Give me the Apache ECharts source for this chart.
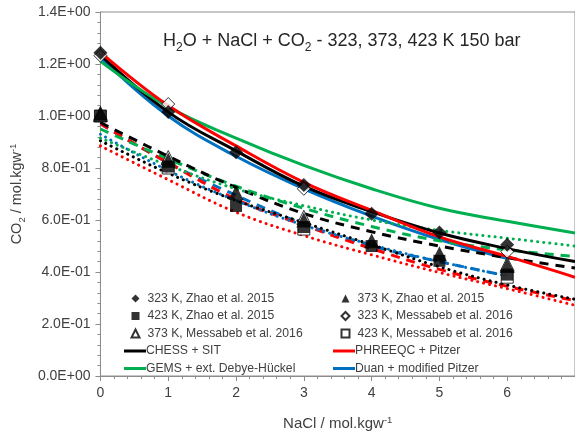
<!DOCTYPE html>
<html>
<head>
<meta charset="utf-8">
<script src="https://cdn.jsdelivr.net/npm/echarts@6/dist/echarts.min.js"></script>
<style>
  html, body { margin: 0; padding: 0; background: #fff; }
  #chart { width: 575px; height: 436px; }
</style>
</head>
<body>
<div id="chart"></div>
<script>
// NaCl molality grids (mol/kgw)
const naclModel = [0, 1, 2, 3, 4, 5, 6, 7];
const naclDuan = [0, 1, 2, 3, 4, 5, 6];
const naclZhao = [0, 1, 2, 3, 4, 5, 6];
const naclMessabeb = [0, 1, 3, 6];

// Measured CO2 solubility (mol/kgw)
const zhao323 = [1.243, 1.015, 0.861, 0.735, 0.624, 0.552, 0.505];
const zhao373 = [1.012, 0.83, 0.706, 0.60, 0.52, 0.47, 0.425];
const zhao423 = [1.0, 0.806, 0.654, 0.573, 0.50, 0.443, 0.39];
const messabeb323 = [1.232, 1.046, 0.72, 0.478];
const messabeb373 = [1.005, 0.84, 0.61, 0.43];
const messabeb423 = [1.0, 0.80, 0.565, 0.38];

// Model curves: 323 K (solid), 373 K (dashed), 423 K (dotted)
const chess323 = [1.235, 1.015, 0.866, 0.73, 0.632, 0.55, 0.49, 0.44];
const chess373 = [0.975, 0.845, 0.725, 0.625, 0.555, 0.50, 0.455, 0.415];
const chess423 = [0.905, 0.78, 0.675, 0.59, 0.505, 0.42, 0.35, 0.295];
const phreeqc323 = [1.245, 1.04, 0.885, 0.745, 0.637, 0.535, 0.46, 0.38];
const phreeqc373 = [0.97, 0.82, 0.68, 0.58, 0.49, 0.41, 0.345, 0.29];
const phreeqc423 = [0.885, 0.755, 0.63, 0.54, 0.466, 0.398, 0.336, 0.272];
const gems323 = [1.21, 1.035, 0.915, 0.81, 0.72, 0.645, 0.595, 0.55];
const gems373 = [0.95, 0.835, 0.73, 0.645, 0.575, 0.52, 0.485, 0.46];
const gems423 = [0.915, 0.81, 0.72, 0.655, 0.60, 0.56, 0.53, 0.50];
const duan323 = [1.225, 1.0, 0.845, 0.72, 0.615, 0.525, 0.452];
const duan373 = [0.97, 0.82, 0.695, 0.585, 0.50, 0.44, 0.385];
const duan423 = [0.93, 0.79, 0.675, 0.58, 0.505, 0.44, 0.385];

// Axis ticks
const yMin = 0, yMax = 1.4, yStep = 0.2;
const xMin = 0, xMax = 7, xStep = 1;

const FONT = 'Liberation Sans, Arial, sans-serif';
const pairs = (xs, ys) => ys.map((y, i) => [xs[i], y]);

function sci(v) {
  if (Math.abs(v) < 1e-12) return '0.0E+00';
  const e = Math.floor(Math.log10(Math.abs(v)) + 1e-9);
  const m = v / Math.pow(10, e);
  return m.toFixed(1) + 'E' + (e < 0 ? '-' : '+') + String(Math.abs(e)).padStart(2, '0');
}

const SOLID = 'solid', DASH = [9, 7], DOT = [0.1, 6];
function model(name, xs, ys, color, type, z) {
  return {
    name, type: 'line', data: pairs(xs, ys), smooth: 0.4,
    symbol: 'none', z: z,
    lineStyle: { color, width: 3, type, cap: type === DOT ? 'round' : 'butt' },
    itemStyle: { color },
    emphasis: { disabled: true }
  };
}
function points(name, xs, ys, symbol, size, filled) {
  return {
    name, type: 'scatter', data: pairs(xs, ys), symbol, symbolSize: size, z: filled ? 6 : 5,
    itemStyle: filled ? { color: '#000' } : { color: '#fff', borderColor: '#000', borderWidth: 1 },
    emphasis: { disabled: true }
  };
}

const nChess = 'CHESS + SIT', nPhreeqc = 'PHREEQC + Pitzer',
      nGems = 'GEMS + ext. Debye-Hückel', nDuan = 'Duan + modified Pitzer';
const nZ323 = '323 K, Zhao et al. 2015', nZ373 = '373 K, Zhao et al. 2015', nZ423 = '423 K, Zhao et al. 2015';
const nM323 = '323 K, Messabeb et al. 2016', nM373 = '373 K, Messabeb et al. 2016', nM423 = '423 K, Messabeb et al. 2016';

const series = [
  model(nDuan, naclDuan, duan323, '#0070c0', SOLID, 2),
  model(nChess, naclModel, chess323, '#000000', SOLID, 3),
  model(nGems, naclModel, gems323, '#00b050', SOLID, 3),
  model(nPhreeqc, naclModel, phreeqc323, '#ff0000', SOLID, 3),
  model(nDuan, naclDuan, duan373, '#0070c0', DASH, 2),
  model(nPhreeqc, naclModel, phreeqc373, '#ff0000', DASH, 2),
  model(nGems, naclModel, gems373, '#00b050', DASH, 2),
  model(nChess, naclModel, chess373, '#000000', DASH, 2),
  model(nDuan, naclDuan, duan423, '#0070c0', DOT, 2),
  model(nPhreeqc, naclModel, phreeqc423, '#ff0000', DOT, 2),
  model(nChess, naclModel, chess423, '#000000', DOT, 2),
  model(nGems, naclModel, gems423, '#00b050', DOT, 2),
  points(nM323, naclMessabeb, messabeb323, 'diamond', 13, false),
  points(nM373, naclMessabeb, messabeb373, 'triangle', 14, false),
  points(nM423, naclMessabeb, messabeb423, 'rect', 12, false),
  points(nZ323, naclZhao, zhao323, 'diamond', 14, true),
  points(nZ373, naclZhao, zhao373, 'triangle', 15, true),
  points(nZ423, naclZhao, zhao423, 'rect', 12, true)
];

const legendText = { fontFamily: FONT, fontSize: 12.2, color: '#404040', lineHeight: 15 };
const ROW = 17.5, LEG_TOP = 291;
function markerLegend(left, names) {
  return {
    orient: 'vertical', left: left, top: LEG_TOP, padding: 0,
    itemWidth: 8, itemHeight: 8, itemGap: ROW - 15,
    selectedMode: false, textStyle: Object.assign({ padding: [0, 0, 0, 3] }, legendText),
    data: names
  };
}
function lineLegend(left, names) {
  return {
    orient: 'vertical', left: left, top: LEG_TOP + 3 * ROW, padding: 0,
    itemWidth: 22, itemHeight: 3, itemGap: ROW - 15,
    selectedMode: false, textStyle: Object.assign({ padding: [0, 0, 0, -5] }, legendText),
    data: names.map(n => ({ name: n, icon: 'rect' }))
  };
}

const chart = echarts.init(document.getElementById('chart'), null, { renderer: 'canvas' });
chart.setOption({
  animation: false,
  backgroundColor: '#fff',
  title: {
    text: '{a|H}{s|2}{a|O + NaCl + CO}{s|2}{a| - 323, 373, 423 K 150 bar}',
    left: 158, top: 23,
    textStyle: {
      fontWeight: 'normal',
      rich: {
        a: { fontFamily: FONT, fontSize: 18, fontWeight: 'normal', color: '#262626', verticalAlign: 'bottom', lineHeight: 22 },
        s: { fontFamily: FONT, fontSize: 12, fontWeight: 'normal', color: '#262626', verticalAlign: 'bottom', lineHeight: 16, padding: [0, 0, -4, 0] }
      }
    }
  },
  grid: { left: 99, top: 12, right: -3.5, bottom: 45, show: true, borderColor: '#8c8c8c', borderWidth: 1 },
  legend: [
    markerLegend(130.5, [nZ323, nZ423, nM373]),
    lineLegend(124, [nChess, nGems]),
    markerLegend(340.5, [nZ373, nM323, nM423]),
    lineLegend(333, [nPhreeqc, nDuan])
  ],
  xAxis: {
    type: 'value', min: xMin, max: xMax, interval: xStep,
    name: '{a|NaCl / mol.kgw}{p|-1}', nameLocation: 'middle', nameGap: 37,
    nameTextStyle: {
      rich: {
        a: { fontFamily: FONT, fontSize: 15, color: '#404040', verticalAlign: 'bottom', lineHeight: 18 },
        p: { fontFamily: FONT, fontSize: 9.5, color: '#404040', verticalAlign: 'bottom', lineHeight: 18, padding: [0, 0, 6, 0] }
      }
    },
    axisLine: { lineStyle: { color: '#8c8c8c', width: 1 } },
    axisTick: { show: true, length: 5, lineStyle: { color: '#8c8c8c' } },
    minorTick: { show: true, splitNumber: 5, length: 3, lineStyle: { color: '#8c8c8c' } },
    splitLine: { show: false },
    axisLabel: { fontFamily: FONT, fontSize: 14, color: '#404040', margin: 10, showMaxLabel: false }
  },
  yAxis: {
    type: 'value', min: yMin, max: yMax, interval: yStep,
    name: '{a|CO}{s|2}{a| / mol.kgw}{p|-1}', nameLocation: 'middle', nameGap: 60, nameRotate: 90,
    nameTextStyle: {
      rich: {
        a: { fontFamily: FONT, fontSize: 14.5, color: '#404040', verticalAlign: 'bottom', lineHeight: 18 },
        s: { fontFamily: FONT, fontSize: 9.5, color: '#404040', verticalAlign: 'bottom', lineHeight: 18, padding: [0, 0, -3, 0] },
        p: { fontFamily: FONT, fontSize: 9.5, color: '#404040', verticalAlign: 'bottom', lineHeight: 18, padding: [0, 0, 6, 0] }
      }
    },
    axisLine: { show: true, lineStyle: { color: '#8c8c8c', width: 1 } },
    axisTick: { show: true, length: 5, lineStyle: { color: '#8c8c8c' } },
    minorTick: { show: true, splitNumber: 5, length: 3, lineStyle: { color: '#8c8c8c' } },
    splitLine: { show: false },
    axisLabel: { fontFamily: FONT, fontSize: 14, color: '#404040', margin: 10, formatter: sci }
  },
  series: series
});
</script>
</body>
</html>
